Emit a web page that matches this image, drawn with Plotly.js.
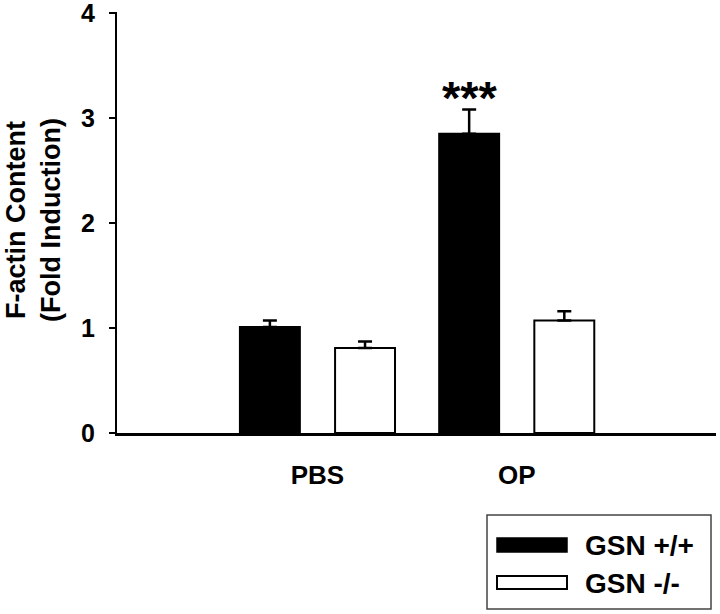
<!DOCTYPE html>
<html>
<head>
<meta charset="utf-8">
<script src="https://cdn.plot.ly/plotly-3.0.1.min.js"></script>
<style>html,body{margin:0;padding:0;background:#fff;}#chart{width:720px;height:614px;}</style>
</head>
<body>
<div id="chart"></div>
<script>
// ---- data ----
const categories = ["PBS", "OP"];
const seriesNames = ["GSN +/+", "GSN -/-"];
const wildType = [1.01, 2.85];
const wildTypeErr = [0.06, 0.23];
const knockout = [0.81, 1.07];
const knockoutErr = [0.06, 0.09];
const yMax = 4;
const yStep = 1;
const significance = ["", "***"];

// ---- layout helpers (pixel -> paper) ----
const W = 720, H = 614;
const M = {l: 117, r: 4, t: 12, b: 181};
const PW = W - M.l - M.r, PH = H - M.t - M.b;
const px = x => (x - M.l) / PW;
const py = y => (H - M.b - y) / PH;

const font = "'Liberation Sans', Arial, Helvetica, sans-serif";

const traces = [
  {
    type: "bar", name: seriesNames[0], x: categories, y: wildType,
    marker: {color: "#000", line: {color: "#000", width: 2}},
    error_y: {type: "data", array: wildTypeErr, symmetric: false, arrayminus: [0, 0],
              color: "#000", thickness: 2.5, width: 7},
    showlegend: false, hoverinfo: "none"
  },
  {
    type: "bar", name: seriesNames[1], x: categories, y: knockout,
    marker: {color: "#fff", line: {color: "#000", width: 2}},
    error_y: {type: "data", array: knockoutErr, symmetric: false, arrayminus: [0, 0],
              color: "#000", thickness: 2.5, width: 7},
    showlegend: false, hoverinfo: "none"
  }
];

const annotations = [];
categories.forEach((c, i) => {
  if (significance[i]) {
    annotations.push({
      x: c, y: wildType[i] + wildTypeErr[i], xref: "x", yref: "y",
      text: "<b>" + significance[i] + "</b>", showarrow: false,
      xanchor: "center", yanchor: "bottom", xshift: -47, yshift: -17,
      font: {family: font, size: 47, color: "#000"}
    });
  }
});

// y title
annotations.push({
  x: px(33), y: py(220), xref: "paper", yref: "paper",
  text: "<b>F-actin Content<br>(Fold Induction)</b>", textangle: -90,
  showarrow: false, xanchor: "center", yanchor: "middle",
  font: {family: font, size: 27, color: "#000"}
});

// custom legend
const shapes = [
  {type: "rect", xref: "paper", yref: "paper", x0: px(487), x1: px(711), y0: py(515), y1: py(609),
   line: {color: "#444", width: 1.5}, fillcolor: "rgba(0,0,0,0)"},
  {type: "rect", xref: "paper", yref: "paper", x0: px(497), x1: px(567), y0: py(538), y1: py(552),
   line: {color: "#000", width: 1.5}, fillcolor: "#000"},
  {type: "rect", xref: "paper", yref: "paper", x0: px(497), x1: px(567), y0: py(576), y1: py(589),
   line: {color: "#000", width: 2}, fillcolor: "#fff"}
];
[545, 583].forEach((yy, i) => {
  annotations.push({
    x: px(583), y: py(yy), xref: "paper", yref: "paper",
    text: "<b>" + seriesNames[i] + "</b>", showarrow: false,
    xanchor: "left", yanchor: "middle",
    font: {family: font, size: 28, color: "#000"}
  });
});

const layout = {
  width: W, height: H,
  margin: M,
  paper_bgcolor: "#fff", plot_bgcolor: "#fff",
  barmode: "group", bargap: 0.045, bargroupgap: 0.37,
  showlegend: false,
  xaxis: {
    type: "category", range: [-1.006, 2.0],
    showline: true, linecolor: "#000", linewidth: 2.5,
    ticks: "", showgrid: false, zeroline: false,
    tickfont: {family: font, size: 26, color: "#000"},
    ticklabelstandoff: 17,
    tickprefix: "<b>", ticksuffix: "</b>"
  },
  yaxis: {
    range: [0, yMax * 1.002], tickmode: "linear", tick0: 0, dtick: yStep,
    tickprefix: "<b>", ticksuffix: "</b>",
    ticklabeloverflow: "allow",
    showline: true, linecolor: "#000", linewidth: 2,
    ticks: "outside", ticklen: 6, tickwidth: 2, tickcolor: "#000",
    showgrid: false, zeroline: false,
    tickfont: {family: font, size: 25, color: "#000"},
    ticklabelstandoff: 9
  },
  annotations: annotations,
  shapes: shapes
};

Plotly.newPlot("chart", traces, layout, {staticPlot: true, displayModeBar: false});
</script>
</body>
</html>
